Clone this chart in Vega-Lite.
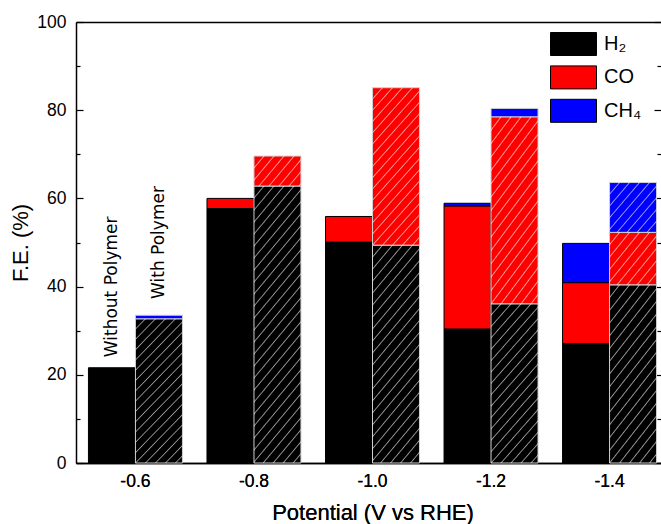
{
  "$schema": "https://vega.github.io/schema/vega-lite/v6.json",
  "width": 585,
  "height": 441,
  "autosize": {"type": "none"},
  "padding": {"left": 76, "top": 22, "right": 0, "bottom": 61},
  "background": "white",
  "config": {"view": {"stroke": null}, "font": "Liberation Sans"},
  "datasets": {
    "fe": [
      {"potential": "-0.6", "polymer": "Without", "product": "H₂", "FE": 21.6},
      {"potential": "-0.6", "polymer": "With", "product": "H₂", "FE": 32.7},
      {"potential": "-0.6", "polymer": "With", "product": "CH₄", "FE": 0.8},
      {"potential": "-0.8", "polymer": "Without", "product": "H₂", "FE": 57.7},
      {"potential": "-0.8", "polymer": "Without", "product": "CO", "FE": 2.3},
      {"potential": "-0.8", "polymer": "With", "product": "H₂", "FE": 62.8},
      {"potential": "-0.8", "polymer": "With", "product": "CO", "FE": 6.8},
      {"potential": "-1.0", "polymer": "Without", "product": "H₂", "FE": 50.1},
      {"potential": "-1.0", "polymer": "Without", "product": "CO", "FE": 5.8},
      {"potential": "-1.0", "polymer": "With", "product": "H₂", "FE": 49.4},
      {"potential": "-1.0", "polymer": "With", "product": "CO", "FE": 35.7},
      {"potential": "-1.2", "polymer": "Without", "product": "H₂", "FE": 30.4},
      {"potential": "-1.2", "polymer": "Without", "product": "CO", "FE": 27.9},
      {"potential": "-1.2", "polymer": "Without", "product": "CH₄", "FE": 0.6},
      {"potential": "-1.2", "polymer": "With", "product": "H₂", "FE": 36.1},
      {"potential": "-1.2", "polymer": "With", "product": "CO", "FE": 42.4},
      {"potential": "-1.2", "polymer": "With", "product": "CH₄", "FE": 1.9},
      {"potential": "-1.4", "polymer": "Without", "product": "H₂", "FE": 27.1},
      {"potential": "-1.4", "polymer": "Without", "product": "CO", "FE": 13.8},
      {"potential": "-1.4", "polymer": "Without", "product": "CH₄", "FE": 8.9},
      {"potential": "-1.4", "polymer": "With", "product": "H₂", "FE": 40.4},
      {"potential": "-1.4", "polymer": "With", "product": "CO", "FE": 11.9},
      {"potential": "-1.4", "polymer": "With", "product": "CH₄", "FE": 11.3}
    ],
    "notes": [
      {"potential": "-0.6", "polymer": "Without", "label": "Without Polymer", "ypos": 24.0},
      {"potential": "-0.6", "polymer": "With", "label": "With Polymer", "ypos": 37.2}
    ]
  },
  "encoding": {
    "x": {
      "field": "potential",
      "type": "nominal",
      "title": "Potential (V vs RHE)",
      "scale": {"domain": ["-0.6", "-0.8", "-1.0", "-1.2", "-1.4"], "range": [0, 593], "paddingInner": 0.207, "paddingOuter": 0.105},
      "axis": {"ticks": false, "labelAngle": 0, "labelFontSize": 17.5, "labelPadding": 9, "labelColor": "#000", "titleFontSize": 22, "titleFontWeight": "normal", "titleColor": "#000", "titlePadding": 13, "domainColor": "#000", "domainWidth": 1.5}
    },
    "xOffset": {"field": "polymer", "type": "nominal", "scale": {"domain": ["Without", "With"], "paddingInner": 0, "paddingOuter": 0}}
  },
  "layer": [
    {
      "data": {"name": "fe"},
      "mark": {"type": "bar", "strokeWidth": 1},
      "encoding": {
        "y": {
          "field": "FE",
          "type": "quantitative",
          "stack": "zero",
          "scale": {"domain": [0, 100], "nice": false},
          "axis": {
            "title": "F.E. (%)",
            "values": [0, 10, 20, 30, 40, 50, 60, 70, 80, 90, 100],
            "labelExpr": "datum.value % 20 === 0 ? datum.label : ''",
            "tickSize": {"condition": {"test": "datum.value % 20 !== 0", "value": -4}, "value": -7},
            "tickColor": "#000",
            "tickWidth": 1.2,
            "labelPadding": 17,
            "labelFontSize": 17.5,
            "labelColor": "#000",
            "titleFontSize": 22,
            "titleFontWeight": "normal",
            "titleColor": "#000",
            "titlePadding": 4,
            "domainColor": "#000",
            "domainWidth": 1.5,
            "grid": false
          }
        },
        "fill": {
          "field": "product",
          "type": "nominal",
          "scale": {"domain": ["H₂", "CO", "CH₄"], "range": ["#000000", "#ff0000", "#0000ff"]},
          "legend": {
            "orient": "none",
            "legendX": 485.5,
            "legendY": 10,
            "title": null,
            "padding": 0,
            "symbolType": "M-2,-1H2V1H-2Z",
            "symbolSize": 529,
            "symbolStrokeColor": "#000",
            "symbolStrokeWidth": 1,
            "symbolOpacity": 1,
            "labelFontSize": 20,
            "labelColor": "#000",
            "labelOffset": 18.5,
            "rowPadding": 5.4
          }
        },
        "stroke": {"condition": {"test": "datum.polymer === 'With'", "value": "#cfcfcf"}, "value": "#000000"},
        "order": {"field": "product", "sort": "descending"}
      }
    },
    {
      "data": {"name": "fe"},
      "transform": [{"filter": "datum.polymer === 'With'"}],
      "mark": {"type": "bar", "strokeWidth": 0},
      "encoding": {
        "x": {
          "field": "potential",
          "type": "nominal",
          "axis": {"orient": "top", "labels": false, "ticks": false, "title": null, "domain": true, "domainColor": "#000", "domainWidth": 1.5}
        },
        "y": {
          "field": "FE",
          "type": "quantitative",
          "stack": "zero",
          "axis": {
            "orient": "right",
            "labels": false,
            "title": null,
            "domain": false,
            "grid": false,
            "values": [0, 10, 20, 30, 40, 50, 60, 70, 80, 90, 100],
            "tickSize": {"condition": {"test": "datum.value % 20 !== 0", "value": -4}, "value": -7},
            "tickColor": "#000",
            "tickWidth": 1.2
          }
        },
        "detail": {"field": "product"},
        "order": {"field": "product", "sort": "descending"},
        "fill": {
          "condition": [
            {"test": "datum.FE < 4", "value": "transparent"},
            {"test": "datum.FE < 9", "value": {"gradient": "linear", "x1": 0, "y1": 0, "x2": 1.194, "y2": 0.635, "stops": [
              {"offset": 0, "color": "#fff0"},
              {"offset": 0.1222, "color": "#fff0"}, {"offset": 0.1389, "color": "#fff9"}, {"offset": 0.1556, "color": "#fff0"},
              {"offset": 0.2611, "color": "#fff0"}, {"offset": 0.2778, "color": "#fff9"}, {"offset": 0.2945, "color": "#fff0"},
              {"offset": 0.4000, "color": "#fff0"}, {"offset": 0.4167, "color": "#fff9"}, {"offset": 0.4334, "color": "#fff0"},
              {"offset": 0.5389, "color": "#fff0"}, {"offset": 0.5556, "color": "#fff9"}, {"offset": 0.5723, "color": "#fff0"},
              {"offset": 0.6777, "color": "#fff0"}, {"offset": 0.6944, "color": "#fff9"}, {"offset": 0.7111, "color": "#fff0"},
              {"offset": 0.8166, "color": "#fff0"}, {"offset": 0.8333, "color": "#fff9"}, {"offset": 0.8500, "color": "#fff0"},
              {"offset": 0.9555, "color": "#fff0"}, {"offset": 0.9722, "color": "#fff9"}, {"offset": 0.9889, "color": "#fff0"}
            ]}},
            {"test": "datum.FE < 20", "value": {"gradient": "linear", "x1": 0, "y1": 0, "x2": 1.048, "y2": 0.947, "stops": [
              {"offset": 0, "color": "#fff0"},
              {"offset": 0.0983, "color": "#fff0"}, {"offset": 0.1117, "color": "#fff9"}, {"offset": 0.1251, "color": "#fff0"},
              {"offset": 0.2100, "color": "#fff0"}, {"offset": 0.2234, "color": "#fff9"}, {"offset": 0.2368, "color": "#fff0"},
              {"offset": 0.3217, "color": "#fff0"}, {"offset": 0.3351, "color": "#fff9"}, {"offset": 0.3485, "color": "#fff0"},
              {"offset": 0.4334, "color": "#fff0"}, {"offset": 0.4468, "color": "#fff9"}, {"offset": 0.4602, "color": "#fff0"},
              {"offset": 0.5451, "color": "#fff0"}, {"offset": 0.5585, "color": "#fff9"}, {"offset": 0.5719, "color": "#fff0"},
              {"offset": 0.6568, "color": "#fff0"}, {"offset": 0.6702, "color": "#fff9"}, {"offset": 0.6836, "color": "#fff0"},
              {"offset": 0.7685, "color": "#fff0"}, {"offset": 0.7819, "color": "#fff9"}, {"offset": 0.7953, "color": "#fff0"},
              {"offset": 0.8802, "color": "#fff0"}, {"offset": 0.8936, "color": "#fff9"}, {"offset": 0.9070, "color": "#fff0"}
            ]}},
            {"test": "datum.FE < 45", "value": {"gradient": "linear", "x1": 0, "y1": 0, "x2": 0.403, "y2": 1.2, "stops": [
              {"offset": 0, "color": "#fff0"},
              {"offset": 0.0471, "color": "#fff0"}, {"offset": 0.0535, "color": "#fff9"}, {"offset": 0.0599, "color": "#fff0"},
              {"offset": 0.1006, "color": "#fff0"}, {"offset": 0.1070, "color": "#fff9"}, {"offset": 0.1134, "color": "#fff0"},
              {"offset": 0.1541, "color": "#fff0"}, {"offset": 0.1605, "color": "#fff9"}, {"offset": 0.1669, "color": "#fff0"},
              {"offset": 0.2076, "color": "#fff0"}, {"offset": 0.2140, "color": "#fff9"}, {"offset": 0.2204, "color": "#fff0"},
              {"offset": 0.2611, "color": "#fff0"}, {"offset": 0.2675, "color": "#fff9"}, {"offset": 0.2739, "color": "#fff0"},
              {"offset": 0.3146, "color": "#fff0"}, {"offset": 0.3210, "color": "#fff9"}, {"offset": 0.3274, "color": "#fff0"},
              {"offset": 0.3681, "color": "#fff0"}, {"offset": 0.3745, "color": "#fff9"}, {"offset": 0.3809, "color": "#fff0"},
              {"offset": 0.4216, "color": "#fff0"}, {"offset": 0.4280, "color": "#fff9"}, {"offset": 0.4344, "color": "#fff0"},
              {"offset": 0.4751, "color": "#fff0"}, {"offset": 0.4815, "color": "#fff9"}, {"offset": 0.4879, "color": "#fff0"},
              {"offset": 0.5286, "color": "#fff0"}, {"offset": 0.5350, "color": "#fff9"}, {"offset": 0.5414, "color": "#fff0"},
              {"offset": 0.5821, "color": "#fff0"}, {"offset": 0.5885, "color": "#fff9"}, {"offset": 0.5949, "color": "#fff0"},
              {"offset": 0.6356, "color": "#fff0"}, {"offset": 0.6420, "color": "#fff9"}, {"offset": 0.6484, "color": "#fff0"},
              {"offset": 0.6891, "color": "#fff0"}, {"offset": 0.6955, "color": "#fff9"}, {"offset": 0.7019, "color": "#fff0"},
              {"offset": 0.7426, "color": "#fff0"}, {"offset": 0.7490, "color": "#fff9"}, {"offset": 0.7554, "color": "#fff0"},
              {"offset": 0.7961, "color": "#fff0"}, {"offset": 0.8025, "color": "#fff9"}, {"offset": 0.8089, "color": "#fff0"},
              {"offset": 0.8496, "color": "#fff0"}, {"offset": 0.8560, "color": "#fff9"}, {"offset": 0.8624, "color": "#fff0"},
              {"offset": 0.9031, "color": "#fff0"}, {"offset": 0.9095, "color": "#fff9"}, {"offset": 0.9159, "color": "#fff0"},
              {"offset": 0.9566, "color": "#fff0"}, {"offset": 0.9630, "color": "#fff9"}, {"offset": 0.9694, "color": "#fff0"}
            ]}},
            {"test": "datum.FE < 55", "value": {"gradient": "linear", "x1": 0, "y1": 0, "x2": 0.305, "y2": 1.179, "stops": [
              {"offset": 0, "color": "#fff0"},
              {"offset": 0.0385, "color": "#fff0"}, {"offset": 0.0437, "color": "#fff9"}, {"offset": 0.0489, "color": "#fff0"},
              {"offset": 0.0822, "color": "#fff0"}, {"offset": 0.0874, "color": "#fff9"}, {"offset": 0.0926, "color": "#fff0"},
              {"offset": 0.1259, "color": "#fff0"}, {"offset": 0.1311, "color": "#fff9"}, {"offset": 0.1363, "color": "#fff0"},
              {"offset": 0.1696, "color": "#fff0"}, {"offset": 0.1748, "color": "#fff9"}, {"offset": 0.1800, "color": "#fff0"},
              {"offset": 0.2133, "color": "#fff0"}, {"offset": 0.2185, "color": "#fff9"}, {"offset": 0.2237, "color": "#fff0"},
              {"offset": 0.2570, "color": "#fff0"}, {"offset": 0.2622, "color": "#fff9"}, {"offset": 0.2674, "color": "#fff0"},
              {"offset": 0.3007, "color": "#fff0"}, {"offset": 0.3059, "color": "#fff9"}, {"offset": 0.3111, "color": "#fff0"},
              {"offset": 0.3444, "color": "#fff0"}, {"offset": 0.3496, "color": "#fff9"}, {"offset": 0.3548, "color": "#fff0"},
              {"offset": 0.3881, "color": "#fff0"}, {"offset": 0.3933, "color": "#fff9"}, {"offset": 0.3985, "color": "#fff0"},
              {"offset": 0.4318, "color": "#fff0"}, {"offset": 0.4370, "color": "#fff9"}, {"offset": 0.4422, "color": "#fff0"},
              {"offset": 0.4755, "color": "#fff0"}, {"offset": 0.4807, "color": "#fff9"}, {"offset": 0.4859, "color": "#fff0"},
              {"offset": 0.5192, "color": "#fff0"}, {"offset": 0.5244, "color": "#fff9"}, {"offset": 0.5296, "color": "#fff0"},
              {"offset": 0.5629, "color": "#fff0"}, {"offset": 0.5681, "color": "#fff9"}, {"offset": 0.5733, "color": "#fff0"},
              {"offset": 0.6066, "color": "#fff0"}, {"offset": 0.6118, "color": "#fff9"}, {"offset": 0.6170, "color": "#fff0"},
              {"offset": 0.6503, "color": "#fff0"}, {"offset": 0.6555, "color": "#fff9"}, {"offset": 0.6607, "color": "#fff0"},
              {"offset": 0.6940, "color": "#fff0"}, {"offset": 0.6992, "color": "#fff9"}, {"offset": 0.7044, "color": "#fff0"},
              {"offset": 0.7377, "color": "#fff0"}, {"offset": 0.7429, "color": "#fff9"}, {"offset": 0.7481, "color": "#fff0"},
              {"offset": 0.7814, "color": "#fff0"}, {"offset": 0.7866, "color": "#fff9"}, {"offset": 0.7918, "color": "#fff0"},
              {"offset": 0.8251, "color": "#fff0"}, {"offset": 0.8303, "color": "#fff9"}, {"offset": 0.8355, "color": "#fff0"},
              {"offset": 0.8688, "color": "#fff0"}, {"offset": 0.8740, "color": "#fff9"}, {"offset": 0.8792, "color": "#fff0"},
              {"offset": 0.9125, "color": "#fff0"}, {"offset": 0.9177, "color": "#fff9"}, {"offset": 0.9229, "color": "#fff0"},
              {"offset": 0.9562, "color": "#fff0"}, {"offset": 0.9614, "color": "#fff9"}, {"offset": 0.9666, "color": "#fff0"}
            ]}}
          ],
          "value": {"gradient": "linear", "x1": 0, "y1": 0, "x2": 0.2353, "y2": 1.1557, "stops": [
            {"offset": 0, "color": "#fff0"},
            {"offset": 0.0317, "color": "#fff0"}, {"offset": 0.0360, "color": "#fff9"}, {"offset": 0.0403, "color": "#fff0"},
            {"offset": 0.0677, "color": "#fff0"}, {"offset": 0.0720, "color": "#fff9"}, {"offset": 0.0763, "color": "#fff0"},
            {"offset": 0.1037, "color": "#fff0"}, {"offset": 0.1080, "color": "#fff9"}, {"offset": 0.1123, "color": "#fff0"},
            {"offset": 0.1397, "color": "#fff0"}, {"offset": 0.1440, "color": "#fff9"}, {"offset": 0.1483, "color": "#fff0"},
            {"offset": 0.1757, "color": "#fff0"}, {"offset": 0.1800, "color": "#fff9"}, {"offset": 0.1843, "color": "#fff0"},
            {"offset": 0.2117, "color": "#fff0"}, {"offset": 0.2160, "color": "#fff9"}, {"offset": 0.2203, "color": "#fff0"},
            {"offset": 0.2477, "color": "#fff0"}, {"offset": 0.2520, "color": "#fff9"}, {"offset": 0.2563, "color": "#fff0"},
            {"offset": 0.2837, "color": "#fff0"}, {"offset": 0.2880, "color": "#fff9"}, {"offset": 0.2923, "color": "#fff0"},
            {"offset": 0.3197, "color": "#fff0"}, {"offset": 0.3240, "color": "#fff9"}, {"offset": 0.3283, "color": "#fff0"},
            {"offset": 0.3557, "color": "#fff0"}, {"offset": 0.3600, "color": "#fff9"}, {"offset": 0.3643, "color": "#fff0"},
            {"offset": 0.3917, "color": "#fff0"}, {"offset": 0.3960, "color": "#fff9"}, {"offset": 0.4003, "color": "#fff0"},
            {"offset": 0.4277, "color": "#fff0"}, {"offset": 0.4320, "color": "#fff9"}, {"offset": 0.4363, "color": "#fff0"},
            {"offset": 0.4637, "color": "#fff0"}, {"offset": 0.4680, "color": "#fff9"}, {"offset": 0.4723, "color": "#fff0"},
            {"offset": 0.4997, "color": "#fff0"}, {"offset": 0.5040, "color": "#fff9"}, {"offset": 0.5083, "color": "#fff0"},
            {"offset": 0.5357, "color": "#fff0"}, {"offset": 0.5400, "color": "#fff9"}, {"offset": 0.5443, "color": "#fff0"},
            {"offset": 0.5717, "color": "#fff0"}, {"offset": 0.5760, "color": "#fff9"}, {"offset": 0.5803, "color": "#fff0"},
            {"offset": 0.6077, "color": "#fff0"}, {"offset": 0.6120, "color": "#fff9"}, {"offset": 0.6163, "color": "#fff0"},
            {"offset": 0.6437, "color": "#fff0"}, {"offset": 0.6480, "color": "#fff9"}, {"offset": 0.6523, "color": "#fff0"},
            {"offset": 0.6797, "color": "#fff0"}, {"offset": 0.6840, "color": "#fff9"}, {"offset": 0.6883, "color": "#fff0"},
            {"offset": 0.7157, "color": "#fff0"}, {"offset": 0.7200, "color": "#fff9"}, {"offset": 0.7243, "color": "#fff0"},
            {"offset": 0.7517, "color": "#fff0"}, {"offset": 0.7560, "color": "#fff9"}, {"offset": 0.7603, "color": "#fff0"},
            {"offset": 0.7877, "color": "#fff0"}, {"offset": 0.7920, "color": "#fff9"}, {"offset": 0.7963, "color": "#fff0"},
            {"offset": 0.8237, "color": "#fff0"}, {"offset": 0.8280, "color": "#fff9"}, {"offset": 0.8323, "color": "#fff0"},
            {"offset": 0.8597, "color": "#fff0"}, {"offset": 0.8640, "color": "#fff9"}, {"offset": 0.8683, "color": "#fff0"},
            {"offset": 0.8957, "color": "#fff0"}, {"offset": 0.9000, "color": "#fff9"}, {"offset": 0.9043, "color": "#fff0"},
            {"offset": 0.9317, "color": "#fff0"}, {"offset": 0.9360, "color": "#fff9"}, {"offset": 0.9403, "color": "#fff0"},
            {"offset": 0.9677, "color": "#fff0"}, {"offset": 0.9720, "color": "#fff9"}, {"offset": 0.9763, "color": "#fff0"}
          ]}
        }
      }
    },
    {
      "data": {"name": "notes"},
      "mark": {"type": "text", "angle": 270, "align": "left", "baseline": "middle", "font": "DejaVu Sans", "fontSize": 17, "fill": "#000"},
      "encoding": {
        "y": {"field": "ypos", "type": "quantitative", "axis": null},
        "text": {"field": "label"}
      }
    }
  ],
  "resolve": {"axis": {"x": "independent", "y": "independent"}}
}
